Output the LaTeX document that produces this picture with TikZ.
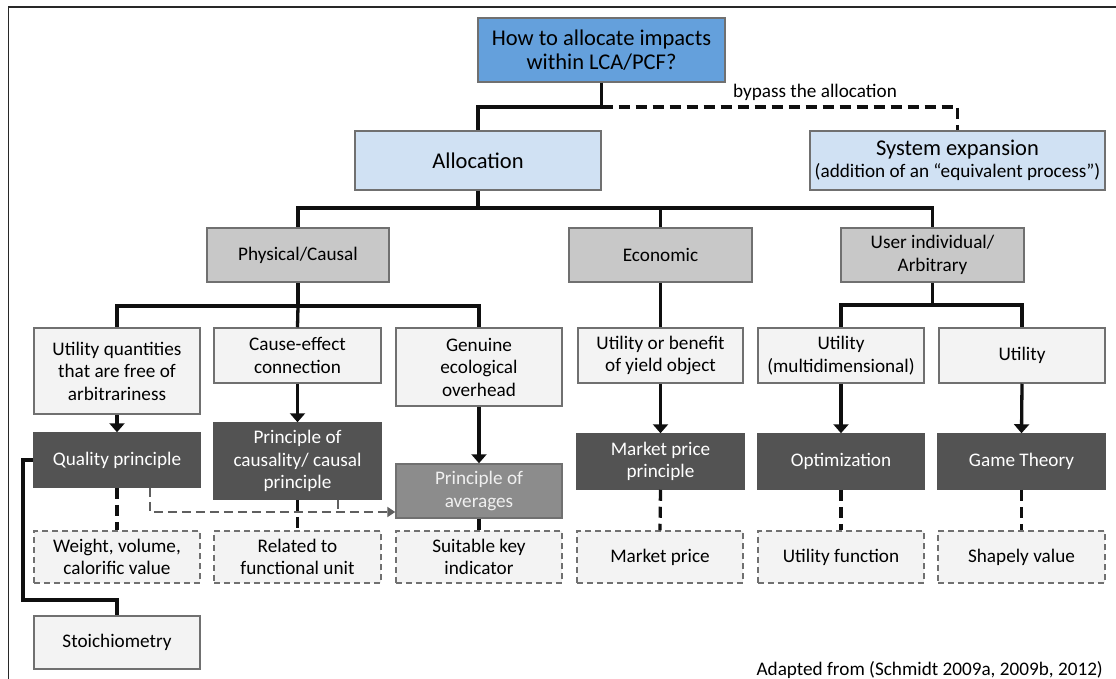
\documentclass[tikz,border=0pt]{standalone}
\usepackage{fontspec}
\setmainfont{Carlito}
\usetikzlibrary{arrows.meta,calc}

\definecolor{qblue}{RGB}{100,160,220}
\definecolor{lblue}{RGB}{208,225,243}
\definecolor{catgray}{RGB}{200,200,200}
\definecolor{boxlight}{RGB}{243,243,243}
\definecolor{boxdark}{RGB}{83,83,83}
\definecolor{boxmid}{RGB}{140,140,140}
\definecolor{edgegray}{RGB}{112,112,112}
\definecolor{lineblack}{RGB}{15,15,15}
\definecolor{arrowgray}{RGB}{95,95,95}

\newcommand{\txtn}{\fontsize{19.2}{22.5}\selectfont}
\newcommand{\txtb}{\fontsize{22.5}{24.5}\selectfont}

\tikzset{
  x=1pt, y=-1pt,
  base/.style={rectangle, inner sep=0pt, align=center, line width=1.5pt, font=\txtn},
  qbox/.style={base, fill=qblue, draw=edgegray, font=\txtb},
  topbox/.style={base, fill=lblue, draw=edgegray, font=\txtb},
  catbox/.style={base, fill=catgray, draw=edgegray},
  critbox/.style={base, fill=boxlight, draw=edgegray},
  princbox/.style={base, fill=boxdark, draw=boxdark, text=white},
  avgbox/.style={base, fill=boxmid, draw=edgegray, text={rgb,255:red,240;green,240;blue,240}},
  keybox/.style={base, fill=boxlight, draw=edgegray, dash pattern=on 6pt off 4pt},
  conn/.style={draw=lineblack, line width=3.3pt},
  connarrow/.style={conn, -{Triangle[width=15pt,length=9pt]}},
  conndash/.style={draw=lineblack, line width=3.3pt, dash pattern=on 11pt off 6pt},
  graylink/.style={draw=arrowgray, line width=2pt, dash pattern=on 9pt off 5pt},
  grayarrow/.style={graylink, -{Triangle[width=10pt,length=8pt]}},
  frameline/.style={draw={rgb,255:red,40;green,40;blue,40}, line width=1.3pt}
}

\begin{document}
\begin{tikzpicture}
\useasboundingbox (0,0) rectangle (1116,679);
\fill[white] (0,0) rectangle (1116,679);

% outer frame
\draw[frameline] (8.6,679) -- (8.6,7) -- (1116,7);

% top levels
\node[qbox, minimum width=247pt, minimum height=64pt] (q) at (601.5,50) {How to allocate impacts\\within LCA/PCF?};
\node[topbox, minimum width=246pt, minimum height=59pt] (alloc) at (478,160.5) {Allocation};
\node[topbox, minimum width=295pt, minimum height=59pt] (sysexp) at (957.5,160.5) {System expansion\\[-2pt]{\txtn(addition of an \textquotedblleft equivalent process\textquotedblright)}};

% allocation categories
\node[catbox, minimum width=182pt, minimum height=54pt] (phys) at (298,255) {Physical/Causal};
\node[catbox, minimum width=183pt, minimum height=54pt] (econ) at (660.5,255) {Economic};
\node[catbox, minimum width=183pt, minimum height=54pt] (user) at (932.5,255) {User individual/\\Arbitrary};

% criteria
\node[critbox, minimum width=166pt, minimum height=86pt] (uq) at (117,371) {Utility quantities\\that are free of\\arbitrariness};
\node[critbox, minimum width=167pt, minimum height=55pt] (ce) at (297.5,355.5) {Cause-effect\\connection};
\node[critbox, minimum width=166pt, minimum height=78pt] (geo) at (479,367) {Genuine\\ecological\\overhead};
\node[critbox, minimum width=165pt, minimum height=55pt] (ub) at (660.5,355.5) {Utility or benefit\\of yield object};
\node[critbox, minimum width=166pt, minimum height=55pt] (um) at (841,355.5) {Utility\\(multidimensional)};
\node[critbox, minimum width=166pt, minimum height=55pt] (ut) at (1022,355.5) {Utility};

% principles
\node[princbox, minimum width=166pt, minimum height=54pt] (qp) at (117,460) {Quality principle};
\node[princbox, minimum width=167pt, minimum height=76pt] (pc) at (297.5,461) {Principle of\\causality/ causal\\principle};
\node[avgbox, minimum width=166pt, minimum height=54pt] (pa) at (479,491) {Principle of\\averages};
\node[princbox, minimum width=167pt, minimum height=55pt] (mp) at (660.5,461.5) {Market price\\principle};
\node[princbox, minimum width=166pt, minimum height=55pt] (opt) at (841,461.5) {Optimization};
\node[princbox, minimum width=167pt, minimum height=55pt] (gt) at (1021.5,461.5) {Game Theory};

% key quantities
\node[keybox, minimum width=166pt, minimum height=52pt] (wv) at (117,557) {Weight, volume,\\calorific value};
\node[keybox, minimum width=167pt, minimum height=52pt] (rf) at (297.5,557) {Related to\\functional unit};
\node[keybox, minimum width=166pt, minimum height=52pt] (sk) at (479,557) {Suitable key\\indicator};
\node[keybox, minimum width=166pt, minimum height=52pt] (mpr) at (660,557) {Market price};
\node[keybox, minimum width=166pt, minimum height=52pt] (uf) at (841,557) {Utility function};
\node[keybox, minimum width=167pt, minimum height=52pt] (sv) at (1021.5,557) {Shapely value};

\node[critbox, minimum width=166pt, minimum height=53pt] (st) at (117,642.5) {Stoichiometry};

% labels
\node[font=\txtn, inner sep=0pt] (bypass) at (815,92) {bypass the allocation};
\node[font=\txtn, inner sep=0pt, anchor=east] (src) at (1103,670) {Adapted from (Schmidt 2009a, 2009b, 2012)};

% junction points
\coordinate (jq) at (601.5,107);
\coordinate (ja) at (478,208);
\coordinate (jp) at (298,306);
\coordinate (ju) at (932.5,305);
\coordinate (gj) at (150,512);
\coordinate (pcj) at (338,512);
\coordinate (sj) at (23,600);

% tree connectors
\draw[conn] (q.south) -- (jq) -| (alloc.north);
\draw[conndash] (jq) -| (sysexp.north);
\draw[conn] (alloc.south) -- (ja) -| (phys.north);
\draw[conn] (ja) -| (econ.north);
\draw[conn] (ja) -| (user.north);
\draw[conn] (phys.south) -- (jp) -| (uq.north);
\draw[conn] (jp) -- (ce.north);
\draw[conn] (jp) -| (geo.north);
\draw[conn] (econ.south) -- (ub.north);
\draw[conn] (user.south) -- (ju) -| (um.north);
\draw[conn] (ju) -| (ut.north);

% criterion to principle
\draw[connarrow] (uq.south) -- (qp.north);
\draw[connarrow] (ce.south) -- (pc.north);
\draw[connarrow] (geo.south) -- (pa.north);
\draw[connarrow] (ub.south) -- (mp.north);
\draw[connarrow] (um.south) -- (opt.north);
\draw[connarrow] (ut.south) -- (gt.north);

% links to averages
\draw[graylink] (pc.south -| pcj) -- (pcj);
\draw[grayarrow] (qp.south -| gj) |- (gj -| pa.west);

% principle to key quantity
\draw[conndash] (qp.south) -- (wv.north);
\draw[conndash] (pc.south) -- (rf.north);
\draw[conndash] (pa.south) -- (sk.north);
\draw[conndash] (mp.south) -- (mpr.north);
\draw[conndash] (opt.south) -- (uf.north);
\draw[conndash] (gt.south) -- (sv.north);

% quality principle to stoichiometry
\draw[conn] (qp.west) -| (sj) -| (st.north);
\end{tikzpicture}
\end{document}
